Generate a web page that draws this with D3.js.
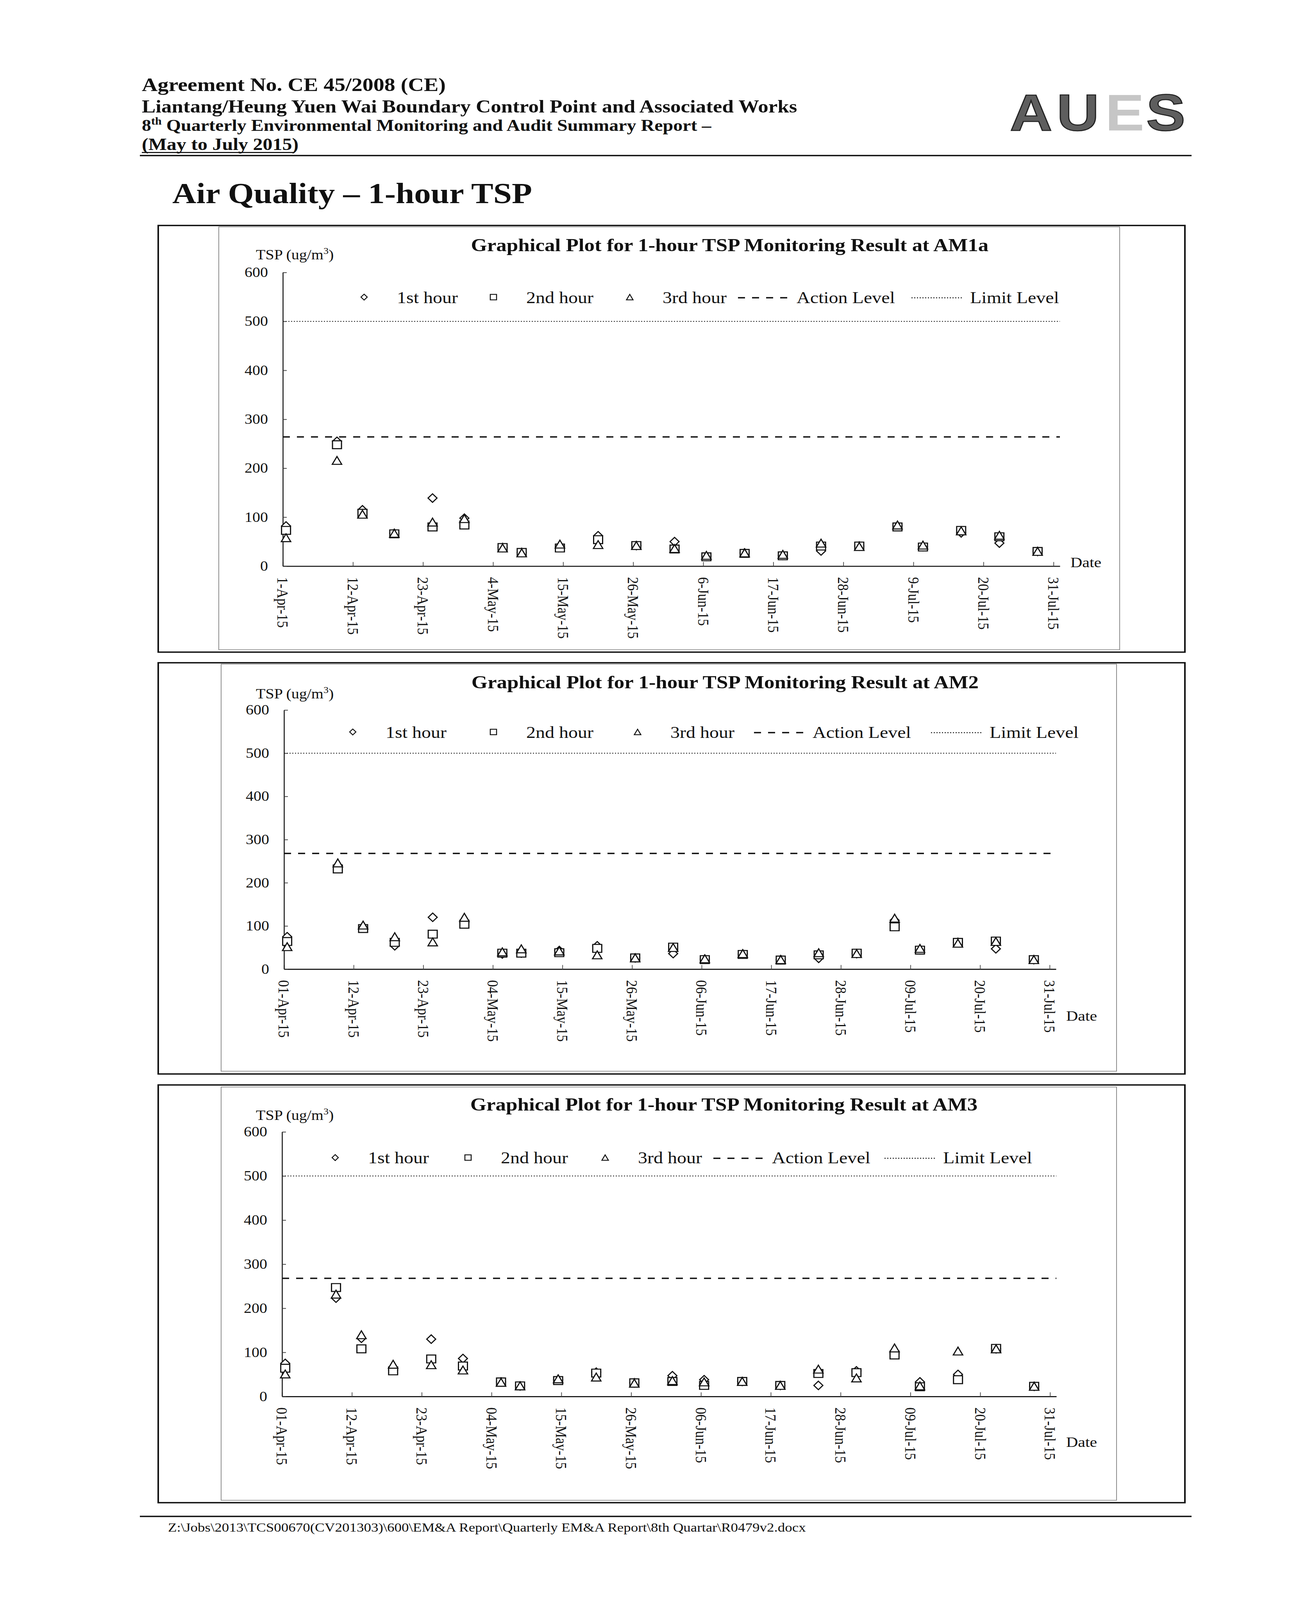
<!DOCTYPE html>
<html>
<head>
<meta charset="utf-8">
<script src="https://cdn.jsdelivr.net/npm/d3@7"></script>
<style>
  html, body { margin: 0; padding: 0; background: #fff; overflow: hidden; }
  svg { display: block; width: 100vw; height: 100vh; }
</style>
</head>
<body>
<svg id="page" viewBox="0 0 3302 4669" preserveAspectRatio="none"></svg>
<script>
// ---- data ----
const sampleDates = ["2015-04-01", "2015-04-09", "2015-04-13", "2015-04-18", "2015-04-24", "2015-04-29",
  "2015-05-05", "2015-05-08", "2015-05-14", "2015-05-20", "2015-05-26", "2015-06-01", "2015-06-06",
  "2015-06-12", "2015-06-18", "2015-06-24", "2015-06-30", "2015-07-06", "2015-07-10", "2015-07-16",
  "2015-07-22", "2015-07-28"];

const am1aHour1 = [82, 255, 115, 67, 139, 98, 38, 28, 40, 62, 42, 50, 20, 27, 22, 31, 41, 82, 40, 68, 47, 30];
const am1aHour2 = [73, 248, 108, 66, 80, 84, 38, 28, 37, 54, 42, 35, 19, 26, 21, 41, 41, 80, 39, 73, 60, 30];
const am1aHour3 = [58, 216, 106, 67, 90, 97, 37, 27, 45, 44, 42, 36, 22, 27, 24, 47, 40, 84, 43, 72, 63, 30];

const am2Hour1 = [75, 240, 96, 54, 120, 108, 35, 37, 43, 54, 26, 36, 23, 35, 22, 25, 36, 113, 45, 62, 47, 22];
const am2Hour2 = [64, 232, 94, 62, 81, 104, 37, 37, 38, 48, 26, 51, 22, 34, 21, 33, 37, 98, 44, 62, 65, 22];
const am2Hour3 = [52, 246, 102, 75, 63, 120, 40, 47, 42, 33, 26, 50, 24, 36, 22, 38, 36, 118, 48, 60, 64, 22];

const am3Hour1 = [75, 223, 132, 60, 130, 86, 33, 24, 38, 55, 31, 47, 38, 34, 25, 25, 58, 97, 33, 50, 108, 23];
const am3Hour2 = [64, 247, 108, 58, 85, 69, 33, 24, 36, 53, 31, 34, 25, 34, 25, 52, 54, 94, 22, 38, 109, 23];
const am3Hour3 = [51, 232, 140, 73, 72, 60, 32, 24, 40, 44, 30, 36, 33, 34, 25, 62, 42, 110, 24, 103, 108, 23];

const stations = ["AM1a", "AM2", "AM3"];
const actionLevels = [264, 268, 268];
const limitLevel = 500;

const yTicks = [0, 100, 200, 300, 400, 500, 600];
const xTickDates = ["2015-04-01", "2015-04-12", "2015-04-23", "2015-05-04", "2015-05-15", "2015-05-26",
  "2015-06-06", "2015-06-17", "2015-06-28", "2015-07-09", "2015-07-20", "2015-07-31"];
const legendLabels = ["1st hour", "2nd hour", "3rd hour", "Action Level", "Limit Level"];

const seriesByStation = [
  [am1aHour1, am1aHour2, am1aHour3],
  [am2Hour1, am2Hour2, am2Hour3],
  [am3Hour1, am3Hour2, am3Hour3]
];

// ---- page layout ----
const serif = "'Liberation Serif', 'Times New Roman', serif";
const panels = [
  { box: [405, 658, 3033, 1903], frame: [560, 662, 2866, 1896], x0: 724, x1: 2713, yBottom: 1652, yTop: 795,
    titleX: 1868, titleY: 733, unitY: 757, legendY: 867, legendX: [932, 1263, 1612, 1889, 2333],
    dateX: 2740, dateY: 1655, fmt: "%-d-%b-%y" },
  { box: [405, 1934, 3033, 3134], frame: [566, 1938, 2858, 3126], x0: 727, x1: 2703, yBottom: 2828, yTop: 2072,
    titleX: 1856, titleY: 2008, unitY: 2038, legendY: 2136, legendX: [903, 1263, 1632, 1930, 2383],
    dateX: 2729, dateY: 2979, fmt: "%d-%b-%y" },
  { box: [405, 3166, 3033, 4385], frame: [566, 3172, 2858, 4378], x0: 722, x1: 2704, yBottom: 4075, yTop: 3303,
    titleX: 1853, titleY: 3241, unitY: 3268, legendY: 3378, legendX: [858, 1198, 1549, 1826, 2264],
    dateX: 2729, dateY: 4222, fmt: "%d-%b-%y" }
];

const svg = d3.select("#page");
const parse = d3.timeParse("%Y-%m-%d");
const axisStart = parse("2015-04-01");
const axisEnd = parse("2015-08-01");

svg.append("rect").attr("width", 3302).attr("height", 4669).attr("fill", "#fff");

// marker outlines centred on their box
function markerPath(kind, r) {
  if (kind === 0) return `M0,${-r * 1.08}L${r},0L0,${r * 1.08}L${-r},0Z`;
  if (kind === 1) return `M${-r},${-r}H${r}V${r}H${-r}Z`;
  return `M0,${-r}L${r * 1.05},${r}L${-r * 1.05},${r}Z`;
}

drawHeader();
panels.forEach(drawPanel);
drawFooter();

function drawHeader() {
  const head = svg.append("g")
    .attr("font-family", serif)
    .attr("font-weight", "bold")
    .attr("fill", "#111");

  head.append("text").attr("x", 363).attr("y", 266).attr("font-size", 56)
    .text("Agreement No. CE 45/2008 (CE)");
  head.append("text").attr("x", 363).attr("y", 328).attr("font-size", 53)
    .text("Liantang/Heung Yuen Wai Boundary Control Point and Associated Works");

  const l3 = head.append("text").attr("x", 363).attr("y", 382).attr("font-size", 48);
  l3.append("tspan").text("8");
  l3.append("tspan").attr("font-size", 30).attr("dy", -18).text("th");
  l3.append("tspan").attr("dy", 18)
    .text(" Quarterly Environmental Monitoring and Audit Summary Report \u2013");

  head.append("text").attr("x", 363).attr("y", 438).attr("font-size", 50)
    .text("(May to July 2015)");
  svg.append("line").attr("x1", 363).attr("x2", 754).attr("y1", 445).attr("y2", 445)
    .attr("stroke", "#111").attr("stroke-width", 3);

  svg.append("line").attr("x1", 358).attr("x2", 3050).attr("y1", 454).attr("y2", 454)
    .attr("stroke", "#111").attr("stroke-width", 4);

  // AUES logo
  const logo = [
    { ch: "A", x: 2585, fill: "#5e5e5e" },
    { ch: "U", x: 2705, fill: "#5e5e5e" },
    { ch: "E", x: 2829, fill: "#c6c6c6" },
    { ch: "S", x: 2934, fill: "#5e5e5e" }
  ];
  svg.append("g").selectAll("text")
    .data(logo)
    .enter()
    .append("text")
    .attr("x", d => d.x)
    .attr("y", 381)
    .attr("font-family", "'Liberation Sans', Arial, sans-serif")
    .attr("font-weight", "bold")
    .attr("font-size", 150)
    .attr("fill", d => d.fill)
    .attr("stroke", d => d.ch === "E" ? "none" : "#222")
    .attr("stroke-width", 3)
    .text(d => d.ch);

  svg.append("text")
    .attr("x", 441).attr("y", 593)
    .attr("font-family", serif).attr("font-weight", "bold").attr("font-size", 85)
    .attr("fill", "#111")
    .text("Air Quality \u2013 1-hour TSP");
}

function drawPanel(p, i) {
  const g = svg.append("g");

  g.append("rect")
    .attr("x", p.box[0]).attr("y", p.box[1])
    .attr("width", p.box[2] - p.box[0]).attr("height", p.box[3] - p.box[1])
    .attr("fill", "none").attr("stroke", "#111").attr("stroke-width", 4);

  g.append("rect")
    .attr("x", p.frame[0]).attr("y", p.frame[1])
    .attr("width", p.frame[2] - p.frame[0]).attr("height", p.frame[3] - p.frame[1])
    .attr("fill", "none").attr("stroke", "#8c8c8c").attr("stroke-width", 2);

  const x = d3.scaleTime().domain([axisStart, axisEnd]).range([p.x0, p.x1]);
  const y = d3.scaleLinear().domain([0, 600]).range([p.yBottom, p.yTop]);

  // title + unit label
  g.append("text")
    .attr("x", p.titleX).attr("y", p.titleY)
    .attr("text-anchor", "middle")
    .attr("font-family", serif).attr("font-weight", "bold").attr("font-size", 53)
    .attr("fill", "#111")
    .text(`Graphical Plot for 1-hour TSP Monitoring Result at ${stations[i]}`);

  const unit = g.append("text")
    .attr("x", 655).attr("y", p.unitY)
    .attr("font-family", serif).attr("font-size", 40).attr("fill", "#111");
  unit.append("tspan").text("TSP (ug/m");
  unit.append("tspan").attr("font-size", 26).attr("dy", -16).text("3");
  unit.append("tspan").attr("dy", 16).text(")");

  // axes
  const xAxis = g.append("g")
    .attr("transform", `translate(0, ${p.yBottom})`)
    .call(d3.axisBottom(x)
      .tickValues(xTickDates.map(parse))
      .tickFormat(d3.timeFormat(p.fmt))
      .tickSizeInner(-12)
      .tickSizeOuter(0));
  xAxis.select(".domain").attr("stroke", "#111").attr("stroke-width", 3);
  xAxis.selectAll(".tick line").attr("stroke", "#555").attr("stroke-width", 2);
  xAxis.selectAll(".tick text")
    .attr("transform", "rotate(90)")
    .attr("x", 32)
    .attr("y", 0)
    .attr("dy", "0.35em")
    .attr("text-anchor", "start")
    .attr("font-family", serif)
    .attr("font-size", 40)
    .attr("fill", "#111");

  const yAxis = g.append("g")
    .attr("transform", `translate(${p.x0}, 0)`)
    .call(d3.axisLeft(y)
      .tickValues(yTicks)
      .tickSizeInner(-10)
      .tickSizeOuter(0)
      .tickPadding(38));
  yAxis.select(".domain").attr("stroke", "#111").attr("stroke-width", 2.5);
  yAxis.selectAll(".tick line").attr("stroke", "#333").attr("stroke-width", 2);
  yAxis.selectAll(".tick text")
    .attr("font-family", serif)
    .attr("font-size", 40)
    .attr("fill", "#111");

  g.append("text")
    .attr("x", p.dateX).attr("y", p.dateY)
    .attr("font-family", serif).attr("font-size", 42).attr("fill", "#111")
    .text("Date");

  // action and limit levels
  g.append("line")
    .attr("x1", x(axisStart)).attr("x2", x(axisEnd))
    .attr("y1", y(actionLevels[i])).attr("y2", y(actionLevels[i]))
    .attr("stroke", "#111").attr("stroke-width", 4).attr("stroke-dasharray", "18,18");
  g.append("line")
    .attr("x1", x(axisStart)).attr("x2", x(axisEnd))
    .attr("y1", y(limitLevel)).attr("y2", y(limitLevel))
    .attr("stroke", "#222").attr("stroke-width", 2.5).attr("stroke-dasharray", "3,4");

  // points sit in the middle of each day's slot
  seriesByStation[i].forEach((values, k) => {
    const pts = values.map((v, j) => ({ date: d3.timeHour.offset(parse(sampleDates[j]), 12), value: v }));
    g.append("g").selectAll("path")
      .data(pts)
      .enter()
      .append("path")
      .attr("transform", d => `translate(${x(d.date)}, ${y(d.value)})`)
      .attr("d", markerPath(k, 11.5))
      .attr("fill", "#fff")
      .attr("stroke", "#111")
      .attr("stroke-width", 3);
  });

  // legend
  const leg = g.append("g").attr("font-family", serif).attr("font-size", 48).attr("fill", "#111");
  legendLabels.forEach((label, k) => {
    const lx = p.legendX[k];
    if (k < 3) {
      leg.append("path")
        .attr("transform", `translate(${lx}, ${p.legendY})`)
        .attr("d", markerPath(k, 8))
        .attr("fill", "#fff").attr("stroke", "#111").attr("stroke-width", 2.5);
      leg.append("text").attr("x", lx + 84).attr("y", p.legendY + 17).text(label);
    } else {
      leg.append("line")
        .attr("x1", lx).attr("x2", lx + 132)
        .attr("y1", p.legendY + 2).attr("y2", p.legendY + 2)
        .attr("stroke", "#111")
        .attr("stroke-width", k === 3 ? 4 : 2.5)
        .attr("stroke-dasharray", k === 3 ? "18,18" : "3,4");
      leg.append("text").attr("x", lx + 150).attr("y", p.legendY + 17).text(label);
    }
  });
}

function drawFooter() {
  svg.append("line").attr("x1", 358).attr("x2", 3050).attr("y1", 4425).attr("y2", 4425)
    .attr("stroke", "#111").attr("stroke-width", 4);
  svg.append("text")
    .attr("x", 430).attr("y", 4470)
    .attr("font-family", serif).attr("font-size", 37).attr("fill", "#111")
    .text("Z:\\Jobs\\2013\\TCS00670(CV201303)\\600\\EM&A Report\\Quarterly EM&A Report\\8th Quartar\\R0479v2.docx");
}
</script>
</body>
</html>
